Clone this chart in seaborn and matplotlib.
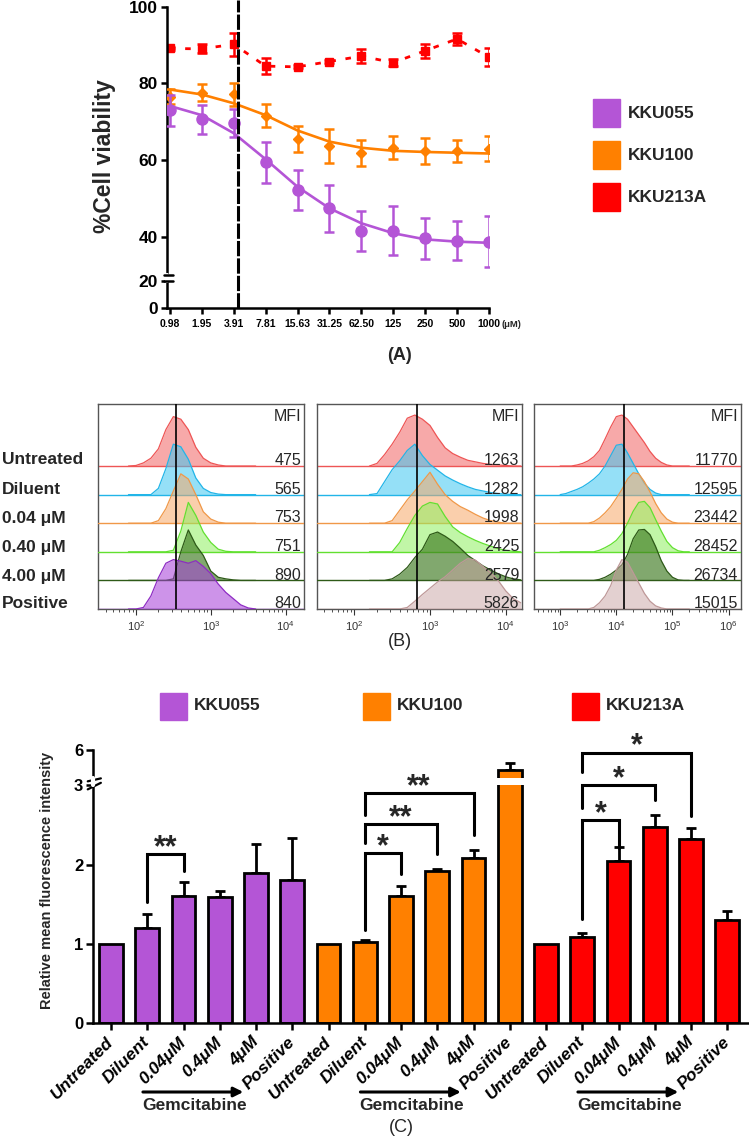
import numpy as np
import pandas as pd
import seaborn as sns
import matplotlib.pyplot as plt
import matplotlib.transforms as mtransforms
from matplotlib.patches import Rectangle

sns.set_theme(style="ticks")
plt.rcParams['font.family'] = ['Liberation Sans', 'DejaVu Sans']

W, H = 749, 1141

# ---------------- data: (A) cell viability ----------------
conc_labels = ["0.98", "1.95", "3.91", "7.81", "15.63", "31.25", "62.50", "125", "250", "500", "1000"]
mean_055 = [73.0, 70.6, 69.6, 59.4, 52.2, 47.4, 41.5, 41.5, 39.6, 39.0, 38.7]
sd_055 = [4.0, 3.8, 3.7, 5.3, 5.2, 6.2, 5.3, 6.4, 5.4, 5.2, 6.6]
fit_055 = [74.1, 71.7, 67.0, 60.2, 53.0, 47.4, 43.5, 40.9, 39.3, 38.7, 38.4]
mean_100 = [76.5, 77.6, 77.2, 71.6, 65.5, 63.7, 61.9, 63.2, 62.4, 62.4, 63.0]
sd_100 = [2.0, 2.2, 3.0, 3.0, 3.5, 4.5, 3.4, 3.0, 3.4, 2.9, 3.3]
fit_100 = [78.4, 77.1, 74.8, 71.7, 67.7, 64.8, 63.2, 62.4, 62.1, 61.9, 61.7]
mean_213 = [89.1, 89.0, 90.2, 84.5, 84.3, 85.7, 87.1, 85.4, 88.5, 91.6, 86.8]
sd_213 = [0.4, 1.2, 3.0, 2.0, 0.4, 0.5, 1.8, 1.0, 1.8, 1.5, 2.3]
ref_line_pos = 2.14

cells = ["KKU055", "KKU100", "KKU213A"]
cell_colors = {"KKU055": "#B455D6", "KKU100": "#FF8000", "KKU213A": "#FF0000"}

# ---------------- data: (B) flow histograms ----------------
rows = ["Untreated", "Diluent", "0.04 μM", "0.40 μM", "4.00 μM", "Positive"]
mfi_055 = [475, 565, 753, 751, 890, 840]
mfi_100 = [1263, 1282, 1998, 2425, 2579, 5826]
mfi_213 = [11770, 12595, 23442, 28452, 26734, 15015]
gate_pos = [339, 667, 13800]

grid_055 = [1.9, 2.0, 2.1, 2.2, 2.3, 2.4, 2.5, 2.6, 2.7, 2.8, 2.9, 3.0, 3.1, 3.2, 3.3, 3.4, 3.5, 3.6]
hist_055 = [
    [0, 1, 6, 15, 33, 70, 95, 90, 70, 36, 15, 6, 2, 0, 0, 0, 0, 0],
    [0, 0, 0, 0, 12, 50, 97, 92, 68, 32, 12, 4, 1, 0, 0, 0, 0, 0],
    [0, 0, 0, 0, 5, 28, 62, 95, 85, 55, 22, 8, 2, 0, 0, 0, 0, 0],
    [0, 0, 0, 0, 0, 0, 3, 40, 95, 70, 38, 18, 5, 1, 0, 0, 0, 0],
    [0, 0, 0, 0, 0, 0, 3, 55, 97, 68, 48, 18, 6, 3, 1, 0, 0, 0],
    [0, 0, 3, 25, 60, 88, 95, 92, 88, 93, 82, 68, 48, 32, 20, 8, 2, 0],
]
grid_100 = [2.2, 2.3, 2.4, 2.5, 2.6, 2.7, 2.8, 2.9, 3.0, 3.1, 3.2, 3.3, 3.4, 3.5, 3.6, 3.7, 3.8, 3.9, 4.0, 4.1, 4.2]
hist_100 = [
    [0, 5, 22, 42, 65, 92, 98, 90, 78, 55, 35, 24, 17, 11, 8, 5, 3, 2, 1, 0, 0],
    [0, 2, 25, 48, 65, 85, 97, 75, 58, 47, 36, 28, 21, 15, 10, 7, 4, 2, 1, 0, 0],
    [0, 0, 0, 5, 25, 45, 62, 80, 98, 75, 55, 42, 32, 25, 17, 10, 5, 2, 0, 0, 0],
    [0, 0, 0, 0, 18, 45, 70, 88, 95, 92, 68, 48, 37, 29, 22, 16, 11, 6, 3, 1, 0],
    [0, 0, 0, 3, 12, 25, 44, 60, 88, 93, 85, 75, 62, 48, 38, 28, 20, 13, 7, 3, 1],
    [0, 0, 0, 0, 0, 3, 15, 28, 40, 52, 62, 75, 88, 97, 94, 82, 70, 55, 35, 20, 12],
]
grid_213 = [3.0, 3.1, 3.2, 3.3, 3.4, 3.5, 3.6, 3.7, 3.8, 3.9, 4.0, 4.1, 4.2, 4.3, 4.4, 4.5, 4.6, 4.7, 4.8, 4.9, 5.0, 5.1, 5.2, 5.3]
hist_213 = [
    [0, 0, 0, 2, 5, 10, 18, 30, 52, 75, 95, 98, 90, 75, 60, 45, 28, 15, 7, 2, 0, 0, 0, 0],
    [0, 2, 6, 10, 15, 22, 30, 40, 55, 75, 95, 97, 80, 60, 40, 22, 10, 3, 0, 0, 0, 0, 0, 0],
    [0, 0, 0, 0, 0, 0, 3, 10, 20, 32, 48, 65, 85, 97, 95, 80, 60, 38, 20, 8, 2, 0, 0, 0],
    [0, 0, 0, 0, 0, 0, 0, 3, 8, 14, 22, 35, 55, 78, 95, 97, 85, 62, 40, 20, 8, 2, 0, 0],
    [0, 0, 0, 0, 0, 0, 0, 2, 6, 12, 20, 30, 50, 80, 97, 98, 88, 65, 38, 18, 6, 1, 0, 0],
    [0, 0, 0, 0, 0, 0, 3, 12, 25, 45, 75, 95, 90, 70, 50, 30, 15, 6, 2, 0, 0, 0, 0, 0],
]

# ---------------- data: (C) relative MFI ----------------
treatments = ["Untreated", "Diluent", "0.04μM", "0.4μM", "4μM", "Positive"]
rmfi_055 = [1.00, 1.20, 1.60, 1.59, 1.895, 1.81]
err_055 = [0, 0.17, 0.185, 0.08, 0.365, 0.53]
rmfi_100 = [1.00, 1.02, 1.60, 1.92, 2.08, 4.58]
err_100 = [0, 0.03, 0.13, 0.02, 0.105, 0.50]
rmfi_213 = [1.00, 1.08, 2.05, 2.476, 2.32, 1.305]
err_213 = [0, 0.06, 0.17, 0.155, 0.14, 0.11]
# (from, to, top, left leg bottom, right leg bottom, label)
sig_055 = [(1, 2, 2.13, 1.53, 1.92, "**")]
sig_100 = [(1, 2, 2.15, 1.18, 1.88, "*"), (1, 3, 2.51, 2.27, 2.14, "**"), (1, 4, 2.90, 2.63, 2.37, "**")]
sig_213 = [(1, 2, 2.56, 1.31, 2.21, "*"), (1, 3, 3.0, 2.71, 2.81, "*"), (1, 4, 5.81, 4.45, 2.61, "*")]


def px_box(l, t, r, b):
    return [l / W, 1 - b / H, (r - l) / W, (b - t) / H]


def ftext(x, y, s, **kw):
    fig.text(x / W, 1 - y / H, s, **kw)


fig = plt.figure(figsize=(W / 100, H / 100), dpi=100)

# ======================= (A) =======================
def a_fwd(v):
    v = np.asarray(v, float)
    return np.where(v <= 20, v * 1.367, np.where(v < 30, 27.3 + (v - 20) * 0.6, 33.3 + (v - 30) * 3.833))


def a_inv(p):
    p = np.asarray(p, float)
    return np.where(p <= 27.3, p / 1.367, np.where(p < 33.3, 20 + (p - 27.3) / 0.6, 30 + (p - 33.3) / 3.833))


axA = fig.add_axes(px_box(166.7, 6.7, 489, 308.3))
xpos = list(range(len(conc_labels)))
sns.lineplot(x=xpos, y=mean_213, color=cell_colors["KKU213A"], lw=2.0,
             linestyle=(0, (2, 3.5)), ax=axA, zorder=2)
axA.errorbar(xpos, mean_213, yerr=sd_213, fmt='s', color=cell_colors["KKU213A"], ms=5.5,
             capsize=3.5, elinewidth=1.8, capthick=1.8, zorder=2)
sns.lineplot(x=xpos, y=fit_100, color=cell_colors["KKU100"], lw=1.9, ax=axA, zorder=3)
axA.errorbar(xpos, mean_100, yerr=sd_100, fmt='D', color=cell_colors["KKU100"], ms=5.5,
             capsize=3.5, elinewidth=1.8, capthick=1.8, zorder=3)
sns.lineplot(x=xpos, y=fit_055, color=cell_colors["KKU055"], lw=1.9, ax=axA, zorder=4)
axA.errorbar(xpos, mean_055, yerr=sd_055, fmt='o', color=cell_colors["KKU055"], ms=8,
             capsize=3.5, elinewidth=1.8, capthick=1.8, zorder=4)

axA.set_yscale('function', functions=(a_fwd, a_inv))
axA.set_ylim(0, 100)
axA.set_xlim(-0.1, 10)
axA.axvline(ref_line_pos, ymin=0, ymax=1.022, color='black', lw=2.2,
            linestyle=(0, (5, 0.7)), clip_on=False, zorder=5)
sns.despine(ax=axA)
for s in ["left", "bottom"]:
    axA.spines[s].set_linewidth(1.8)
    axA.spines[s].set_color("black")
axA.set_yticks([0, 20, 40, 60, 80, 100])
axA.set_yticklabels(["0", "20", "40", "60", "80", "100"], fontsize=12.5, fontweight='bold')
axA.set_xticks(xpos)
axA.set_xticklabels(conc_labels, fontsize=7.5, fontweight='bold')
axA.tick_params(axis='y', length=4.5, width=1.8, pad=2, colors='black')
axA.tick_params(axis='x', length=4, width=1.8, pad=4, colors='black')
axA.set_xlabel("")
axA.set_ylabel("")
# axis break marks
ytr = axA.get_yaxis_transform()
axA.plot([0, 0], [20.8, 29.2], transform=ytr, color='white', lw=3, clip_on=False, zorder=6)
for yb in (20, 30):
    axA.plot([-0.008, 0.02], [yb, yb], transform=ytr, color='black', lw=1.8, clip_on=False, zorder=7)

ftext(104, 156, "%Cell viability", rotation=90, ha='center', va='center', fontsize=16.5, fontweight='bold')
ftext(501, 325, "(μM)", ha='left', va='center', fontsize=6.8, fontweight='bold')
ftext(400, 355, "(A)", ha='center', va='center', fontsize=13, fontweight='bold')

for i, (c, ty) in enumerate(zip(cells, [113, 155, 197])):
    fig.add_artist(Rectangle(((593) / W, 1 - (ty + 14) / H), 27 / W, 28 / H,
                             transform=fig.transFigure, color=cell_colors[c]))
    ftext(628, ty, c, ha='left', va='center', fontsize=12.5, fontweight='bold')

# ======================= (B) =======================
fills = [("#F47C7C", 0.65, "#EE5555"), ("#3EC8F2", 0.55, "#22B5E8"), ("#F7A868", 0.55, "#F09848"),
         ("#8EF060", 0.55, "#62E030"), ("#3E7A20", 0.65, "#2E5A18")]
pos_styles = [("#A43BD8", 0.55, "#8E2BC4"), ("#C9A2A2", 0.5, "#BE9898"), ("#C9A2A2", 0.5, "#BE9898")]
b_boxes = [(98.3, 304.3), (316.7, 522.3), (534.3, 741.0)]
b_xlims = [(10 ** 1.497, 10 ** 4.25), (10 ** 1.503, 10 ** 4.22), (10 ** 2.54, 10 ** 6.22)]
panels = [(grid_055, hist_055, mfi_055), (grid_100, hist_100, mfi_100), (grid_213, hist_213, mfi_213)]
step = 55
for p, ((l, r), xl, (grid, hists, mfis)) in enumerate(zip(b_boxes, b_xlims, panels)):
    ax = fig.add_axes(px_box(l, 404.3, r, 609))
    ax.set_xscale('log')
    xs = 10 ** np.array(grid)
    styles = fills + [pos_styles[p]]
    for i, h in enumerate(hists):
        base = (len(rows) - 1 - i) * step
        fc, al, ec = styles[i]
        ys = base + np.array(h, float)
        ax.fill_between(xs, base, ys, color=fc, alpha=al, lw=0, zorder=i + 1)
        sns.lineplot(x=xs, y=ys, color=ec, lw=0.9, ax=ax, zorder=i + 1)
        ax.axhline(base, color=ec, lw=1.0, zorder=i + 1)
        ax.text(0.985, base + 1.5, str(mfis[i]), transform=ax.get_yaxis_transform(),
                ha='right', va='baseline', fontsize=11.5, zorder=20)
    ax.axvline(gate_pos[p], color='black', lw=1.2, zorder=15)
    ax.text(0.985, 0.938, "MFI", transform=ax.transAxes, ha='right', va='center', fontsize=11.5)
    ax.set_xlim(*xl)
    ax.set_ylim(0, 393.7)
    ax.set_yticks([])
    for s in ax.spines.values():
        s.set_color("#555555")
        s.set_linewidth(1.0)
    ax.tick_params(axis='x', which='major', length=4, width=0.8, labelsize=8, pad=3, colors='#333333')
    ax.tick_params(axis='x', which='minor', length=2.2, width=0.6, colors='#333333')
    ax.set_xlabel("")
    ax.set_ylabel("")

for lab, ty in zip(rows, [460, 489, 518, 547, 576, 604]):
    ftext(2, ty, lab, ha='left', va='center', fontsize=12.5, fontweight='bold')
ftext(400, 641, "(B)", ha='center', va='center', fontsize=13)

# ======================= (C) =======================
def c_fwd(v):
    v = np.asarray(v, float)
    return np.where(v <= 3, v * 79.2, np.where(v < 4, 237.6 + (v - 3) * 7.4, 245.0 + (v - 4) * 14.0))


def c_inv(p):
    p = np.asarray(p, float)
    return np.where(p <= 237.6, p / 79.2, np.where(p < 245.0, 3 + (p - 237.6) / 7.4, 4 + (p - 245.0) / 14.0))


df = pd.DataFrame({
    "cell": np.repeat(cells, len(treatments)),
    "treatment": treatments * len(cells),
    "value": rmfi_055 + rmfi_100 + rmfi_213,
    "err": err_055 + err_100 + err_213,
})
df["key"] = df["cell"] + "|" + df["treatment"]

axC = fig.add_axes(px_box(93, 750, 749, 1023))
sns.barplot(data=df, x="key", y="value", hue="cell", order=list(df["key"]), hue_order=cells,
            palette=cell_colors, saturation=1, dodge=False, width=0.66, edgecolor="black", linewidth=2,
            errorbar=None, legend=False, ax=axC, zorder=2)
axC.set_yscale('function', functions=(c_fwd, c_inv))
bx = np.arange(len(df))
has_err = df["err"].values > 0
axC.errorbar(bx[has_err], df["value"].values[has_err],
             yerr=[np.zeros(has_err.sum()), df["err"].values[has_err]],
             fmt='none', ecolor='black', elinewidth=2, capsize=3.6, capthick=2, zorder=1)
axC.set_ylim(0, 6)
axC.set_xlim(-0.497, 17.6)

# broken bar (KKU100 Positive) and axis break
bw = 0.66
ipos = list(df["key"]).index("KKU100|Positive")
axC.add_patch(Rectangle((ipos - bw / 2 - 0.05, 3.1), bw + 0.1, 0.9, color='white', zorder=5, lw=0))
ytc = axC.get_yaxis_transform()
axC.plot([0, 0], [3.02, 3.98], transform=ytc, color='white', lw=3, clip_on=False, zorder=6)
for yb in (3.0, 3.6):
    axC.annotate("", xy=(0.012, yb + 0.35), xytext=(-0.008, yb - 0.05), xycoords=ytc, textcoords=ytc,
                 arrowprops=dict(arrowstyle='-', lw=1.6, color='black', shrinkA=0, shrinkB=0),
                 annotation_clip=False)

# significance brackets
for g, sigs in enumerate([sig_055, sig_100, sig_213]):
    off = g * len(treatments)
    for a, b, top, lb, rb, lab in sigs:
        x1, x2 = off + a, off + b
        axC.plot([x1, x1, x2, x2], [lb, top, top, rb], color='black', lw=2.2, clip_on=False, zorder=8,
                 solid_joinstyle='miter')
        axC.annotate(lab, xy=((x1 + x2) / 2, top), xytext=(0, -1.5), textcoords='offset points',
                     ha='center', va='baseline', fontsize=22, fontweight='bold', annotation_clip=False)

sns.despine(ax=axC)
for s in ["left", "bottom"]:
    axC.spines[s].set_linewidth(1.8)
    axC.spines[s].set_color("black")
axC.set_yticks([0, 1, 2, 3, 6])
axC.set_yticklabels(["0", "1", "2", "3", "6"], fontsize=12, fontweight='bold')
axC.set_xticks(bx)
axC.set_xticklabels(list(df["treatment"]), rotation=45, ha='right', va='center',
                    rotation_mode='anchor', fontsize=12.5, fontweight='bold', fontstyle='italic')
axC.tick_params(axis='y', length=5, width=1.8, pad=2, colors='black')
axC.tick_params(axis='x', length=5, width=1.8, pad=7, colors='black')
axC.set_xlabel("")
axC.set_ylabel("")

trans = mtransforms.blended_transform_factory(axC.transData, fig.transFigure)
for g in range(len(cells)):
    off = g * len(treatments)
    axC.annotate("", xy=(off + 3.65, 1 - 1092 / H), xytext=(off + 0.88, 1 - 1092 / H),
                 xycoords=trans, textcoords=trans, annotation_clip=False,
                 arrowprops=dict(arrowstyle='-|>', lw=2.2, color='black', mutation_scale=14,
                                 shrinkA=0, shrinkB=0))
    axC.text(off + 0.86, 1 - 1106 / H, "Gemcitabine", transform=trans, ha='left', va='center',
             fontsize=12.5, fontweight='bold')

ftext(47, 880, "Relative mean fluorescence intensity", rotation=90, ha='center', va='center',
      fontsize=10.5, fontweight='bold')
ftext(401, 1128, "(C)", ha='center', va='center', fontsize=13)

for c, lx in zip(cells, [160, 363, 571.5]):
    fig.add_artist(Rectangle((lx / W, 1 - 719.5 / H), 27 / W, 27 / H,
                             transform=fig.transFigure, color=cell_colors[c]))
    ftext(lx + 34, 706, c, ha='left', va='center', fontsize=12.5, fontweight='bold')

fig.savefig("out.png", dpi=100)
